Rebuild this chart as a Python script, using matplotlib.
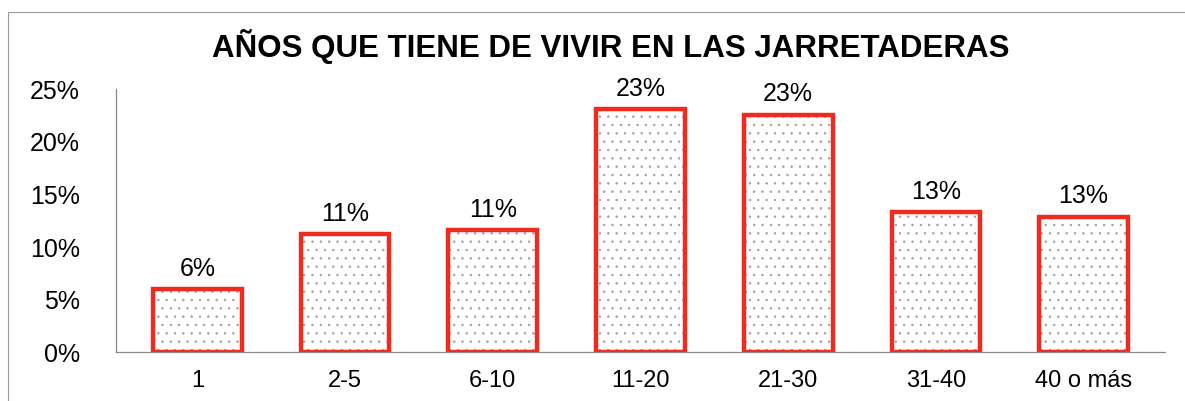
import matplotlib.pyplot as plt
from matplotlib.patches import Rectangle

plt.rcParams['font.family'] = ['Liberation Sans', 'DejaVu Sans']
plt.rcParams['hatch.linewidth'] = 0.5

categories = ['1', '2-5', '6-10', '11-20', '21-30', '31-40', '40 o más']
values = [0.06, 0.112, 0.116, 0.231, 0.226, 0.133, 0.129]
labels = ['6%', '11%', '11%', '23%', '23%', '13%', '13%']
yticks = [0, 0.05, 0.10, 0.15, 0.20, 0.25]
ytick_labels = ['0%', '5%', '10%', '15%', '20%', '25%']

fig = plt.figure(figsize=(11.85, 4.01), dpi=100)
ax = fig.add_axes([0.098, 0.122, 0.885, 0.655])

x = range(len(categories))
# dotted fill first, then red outline on top
ax.bar(x, values, width=0.6, color='white', edgecolor='#a89898', hatch='..', linewidth=0)
ax.bar(x, values, width=0.6, fill=False, edgecolor='#f02a1e', linewidth=3.2)

for xi, v, lab in zip(x, values, labels):
    ax.text(xi, v + 0.008, lab, ha='center', va='bottom', fontsize=18)

ax.set_xlim(-0.55, 6.55)
ax.set_ylim(0, 0.25)
ax.set_yticks(yticks)
ax.set_yticklabels(ytick_labels, fontsize=18)
ax.set_xticks(list(x))
ax.set_xticklabels(categories, fontsize=17)
ax.tick_params(axis='both', length=0)
ax.tick_params(axis='y', pad=26)
ax.tick_params(axis='x', pad=13)

for side in ['top', 'right']:
    ax.spines[side].set_visible(False)
ax.spines['left'].set_color('#888888')
ax.spines['bottom'].set_color('#888888')
ax.spines['left'].set_linewidth(0.9)
ax.spines['bottom'].set_linewidth(0.9)

fig.text(0.515, 0.885, 'AÑOS QUE TIENE DE VIVIR EN LAS JARRETADERAS',
         ha='center', va='center', fontsize=22.5, fontweight='bold')

# faint frame of the original page
fig.patches.append(Rectangle((0.007, -0.01), 1.0, 0.98, transform=fig.transFigure,
                             fill=False, edgecolor='#999999', linewidth=0.8))

fig.savefig('out.png', dpi=100)
